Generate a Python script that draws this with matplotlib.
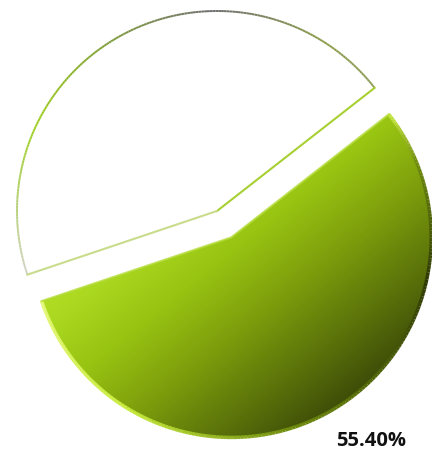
import numpy as np
import matplotlib.pyplot as plt
from matplotlib.collections import LineCollection
from matplotlib.colors import LinearSegmentedColormap

# share of each slice, in percent
labels = ['Other', 'Selected']
values = [44.60, 55.40]

fig = plt.figure(figsize=(4.32, 4.54), dpi=100)
ax = fig.add_axes([0, 0, 1, 1])

wedges, _ = ax.pie(values, center=(217, 243), radius=200, startangle=38,
                   explode=[0, 30], colors=['white', '#8fb514'],
                   wedgeprops=dict(linewidth=0))
ax.set_xlim(0, 432)
ax.set_ylim(0, 454)
ax.set_aspect('equal')
ax.axis('off')


def wedge_arc(w, n=200):
    th = np.radians(np.linspace(w.theta1, w.theta2, n))
    cx, cy = w.center
    return th, cx + w.r * np.cos(th), cy + w.r * np.sin(th)


# white slice: thin outline, grey at the top and green on the sides
white = wedges[0]
th, ax_x, ax_y = wedge_arc(white)
deg = np.degrees(th)
arc_cmap = LinearSegmentedColormap.from_list('arc', [
    (0.00, '#8f9c5a'), (0.12, '#8a9c48'), (0.33, '#6e6e6e'),
    (0.55, '#82a436'), (0.72, '#9fd01e'), (0.86, '#b4d070'),
    (1.00, '#d2d4c6')])
pts = np.column_stack([ax_x, ax_y]).reshape(-1, 1, 2)
segs = np.concatenate([pts[:-1], pts[1:]], axis=1)
frac = (deg[:-1] - white.theta1) / (white.theta2 - white.theta1)
ax.add_collection(LineCollection(segs, colors=arc_cmap(frac), linewidths=1.4, zorder=3))
cx, cy = white.center
ax.plot([cx, ax_x[0]], [cy, ax_y[0]], color='#a8d032', lw=1.5, zorder=3)
ax.plot([cx, ax_x[-1]], [cy, ax_y[-1]], color='#c8dc8c', lw=1.5, zorder=3)

# green slice: light-to-dark fill clipped to the wedge, darkest bottom right
green = wedges[1]
green_cmap = LinearSegmentedColormap.from_list('green', [
    (0.00, '#aedb22'), (0.25, '#98c412'), (0.50, '#7e9e0c'),
    (0.75, '#5c740a'), (1.00, '#3a4808')])
gx, gy = np.meshgrid(np.linspace(0, 432, 300), np.linspace(0, 454, 300))
t = np.clip((0.8 * gx + (454 - gy) - 350) / 340, 0, 1)
img = ax.imshow(t, extent=(0, 432, 0, 454), origin='lower', cmap=green_cmap,
                vmin=0, vmax=1, zorder=2, interpolation='bilinear')
img.set_clip_path(green)
green.set_facecolor('none')

# bevelled rim: light on the left, dark toward the bottom right
th, gx_a, gy_a = wedge_arc(green)
pts = np.column_stack([gx_a, gy_a]).reshape(-1, 1, 2)
segs = np.concatenate([pts[:-1], pts[1:]], axis=1)
rim_cmap = LinearSegmentedColormap.from_list('rim', [
    (0.00, '#e4f878'), (0.20, '#c8ec3c'), (0.45, '#6e8a0c'),
    (0.75, '#2e3a06'), (0.92, '#6e8a10'), (1.00, '#c4e640')])
frac = np.linspace(0, 1, len(segs))
ax.add_collection(LineCollection(segs, colors=rim_cmap(frac), linewidths=2.5, zorder=4))
gcx, gcy = green.center
ax.plot([gx_a[0], gcx, gx_a[-1]], [gy_a[0], gcy, gy_a[-1]], color='#b4dc3a',
        lw=1.5, alpha=0.8, zorder=4, solid_joinstyle='round')

ax.text(371, 13, f'{values[1]:.2f}%', ha='center', va='center',
        fontsize=14.5, fontweight='bold', family=['Open Sans', 'DejaVu Sans'],
        color='#111111', zorder=5)

fig.savefig('out.png', dpi=100)
